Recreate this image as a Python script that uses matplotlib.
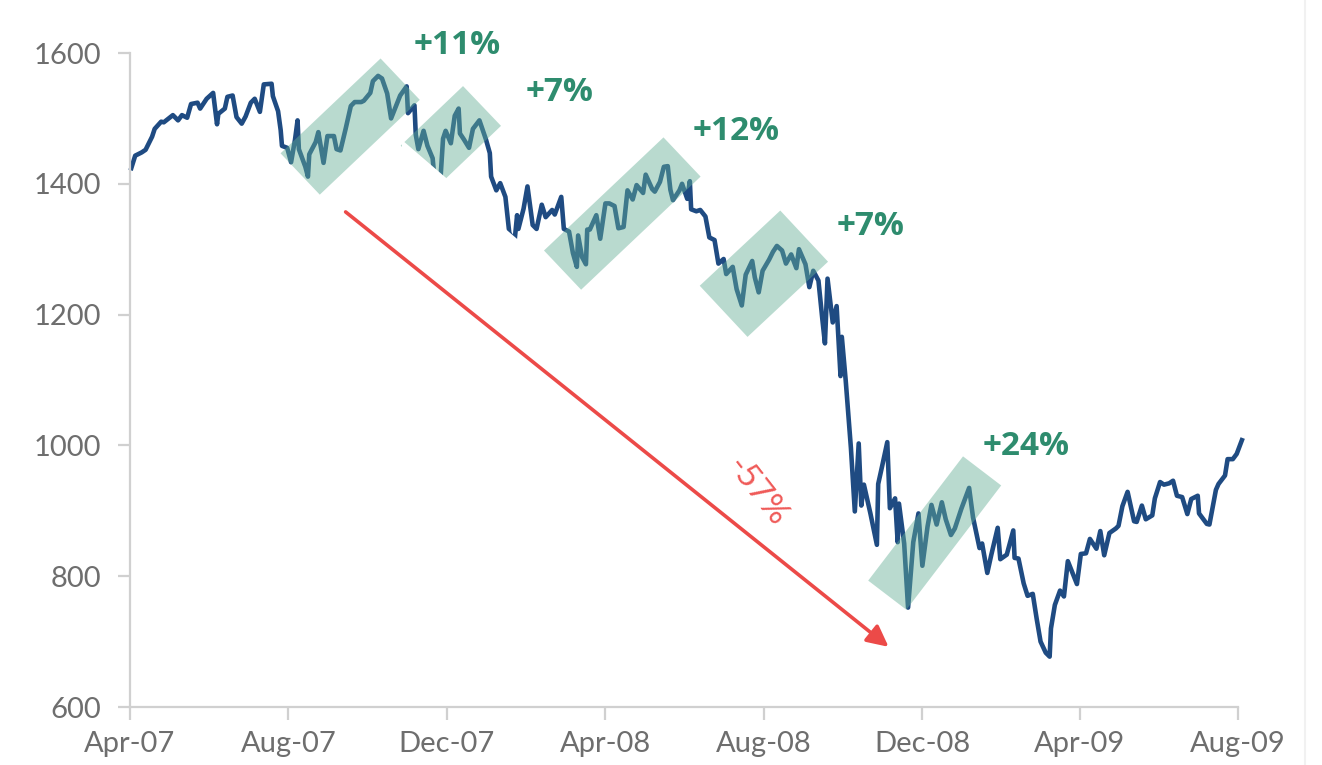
import matplotlib
matplotlib.use("Agg")
import matplotlib.pyplot as plt
import matplotlib.dates as mdates
from matplotlib.patches import Polygon
from matplotlib.lines import Line2D
import numpy as np
import pandas as pd

# S&P 500 closes, Apr-07 .. Aug-09
dates = [
    "2007-04-02", "2007-04-05", "2007-04-10", "2007-04-13", "2007-04-18", "2007-04-20",
    "2007-04-25", "2007-04-27", "2007-05-02", "2007-05-04", "2007-05-08", "2007-05-11",
    "2007-05-15", "2007-05-18", "2007-05-23", "2007-05-25", "2007-05-30", "2007-06-04",
    "2007-06-07", "2007-06-08", "2007-06-13", "2007-06-15", "2007-06-19", "2007-06-22",
    "2007-06-26", "2007-06-29", "2007-07-03", "2007-07-06", "2007-07-10", "2007-07-13",
    "2007-07-19", "2007-07-20", "2007-07-24", "2007-07-26", "2007-07-27", "2007-07-31",
    "2007-08-03", "2007-08-06", "2007-08-08", "2007-08-09", "2007-08-14", "2007-08-16",
    "2007-08-17", "2007-08-22", "2007-08-24", "2007-08-28", "2007-08-31", "2007-09-05",
    "2007-09-07", "2007-09-10", "2007-09-14", "2007-09-18", "2007-09-21", "2007-09-26",
    "2007-09-28", "2007-10-03", "2007-10-05", "2007-10-09", "2007-10-12", "2007-10-16",
    "2007-10-19", "2007-10-23", "2007-10-26", "2007-10-31", "2007-11-01", "2007-11-06",
    "2007-11-07", "2007-11-09", "2007-11-13", "2007-11-16", "2007-11-20", "2007-11-21",
    "2007-11-26", "2007-11-28", "2007-11-30", "2007-12-04", "2007-12-07", "2007-12-10",
    "2007-12-11", "2007-12-14", "2007-12-18", "2007-12-21", "2007-12-26", "2007-12-31",
    "2008-01-03", "2008-01-04", "2008-01-08", "2008-01-11", "2008-01-15", "2008-01-18",
    "2008-01-22", "2008-01-24", "2008-01-25", "2008-01-29", "2008-02-01", "2008-02-05",
    "2008-02-08", "2008-02-12", "2008-02-15", "2008-02-20", "2008-02-22", "2008-02-27",
    "2008-02-29", "2008-03-04", "2008-03-07", "2008-03-10", "2008-03-11", "2008-03-14",
    "2008-03-17", "2008-03-18", "2008-03-20", "2008-03-25", "2008-03-28", "2008-04-01",
    "2008-04-04", "2008-04-08", "2008-04-11", "2008-04-15", "2008-04-18", "2008-04-22",
    "2008-04-25", "2008-04-30", "2008-05-02", "2008-05-07", "2008-05-09", "2008-05-13",
    "2008-05-16", "2008-05-19", "2008-05-21", "2008-05-23", "2008-05-28", "2008-05-30",
    "2008-06-03", "2008-06-05", "2008-06-06", "2008-06-10", "2008-06-13", "2008-06-17",
    "2008-06-20", "2008-06-24", "2008-06-27", "2008-07-01", "2008-07-03", "2008-07-08",
    "2008-07-11", "2008-07-15", "2008-07-18", "2008-07-23", "2008-07-25", "2008-07-28",
    "2008-07-31", "2008-08-05", "2008-08-08", "2008-08-11", "2008-08-15", "2008-08-18",
    "2008-08-22", "2008-08-26", "2008-08-28", "2008-09-02", "2008-09-05", "2008-09-08",
    "2008-09-12", "2008-09-15", "2008-09-17", "2008-09-19", "2008-09-23", "2008-09-26",
    "2008-09-29", "2008-09-30", "2008-10-03", "2008-10-07", "2008-10-10", "2008-10-13",
    "2008-10-15", "2008-10-17", "2008-10-22", "2008-10-24", "2008-10-27", "2008-10-28",
    "2008-10-31", "2008-11-04", "2008-11-06", "2008-11-10", "2008-11-12", "2008-11-13",
    "2008-11-17", "2008-11-20", "2008-11-24", "2008-11-28", "2008-12-01", "2008-12-05",
    "2008-12-08", "2008-12-12", "2008-12-16", "2008-12-19", "2008-12-23", "2008-12-26",
    "2008-12-31", "2009-01-06", "2009-01-09", "2009-01-14", "2009-01-16", "2009-01-20",
    "2009-01-23", "2009-01-28", "2009-01-30", "2009-02-04", "2009-02-09", "2009-02-10",
    "2009-02-13", "2009-02-17", "2009-02-20", "2009-02-24", "2009-02-27", "2009-03-02",
    "2009-03-06", "2009-03-09", "2009-03-10", "2009-03-13", "2009-03-17", "2009-03-20",
    "2009-03-23", "2009-03-30", "2009-04-02", "2009-04-06", "2009-04-09", "2009-04-14",
    "2009-04-17", "2009-04-20", "2009-04-24", "2009-04-29", "2009-05-01", "2009-05-04",
    "2009-05-08", "2009-05-13", "2009-05-15", "2009-05-19", "2009-05-22", "2009-05-27",
    "2009-05-29", "2009-06-02", "2009-06-05", "2009-06-09", "2009-06-12", "2009-06-15",
    "2009-06-19", "2009-06-23", "2009-06-26", "2009-07-01", "2009-07-02", "2009-07-08",
    "2009-07-10", "2009-07-15", "2009-07-17", "2009-07-22", "2009-07-24", "2009-07-28",
    "2009-07-31", "2009-08-04",
]
values = [
    1424, 1443, 1448, 1452, 1472, 1484,
    1495, 1494, 1502, 1505, 1497, 1505,
    1501, 1522, 1524, 1515, 1530, 1539,
    1491, 1507, 1515, 1533, 1535, 1502,
    1492, 1503, 1524, 1530, 1510, 1552,
    1553, 1534, 1511, 1482, 1458, 1455,
    1433, 1467, 1497, 1453, 1426, 1411,
    1445, 1464, 1479, 1432, 1473, 1473,
    1453, 1451, 1484, 1519, 1525, 1525,
    1527, 1539, 1557, 1565, 1561, 1538,
    1500, 1520, 1535, 1549, 1508, 1520,
    1475, 1453, 1481, 1458, 1439, 1417,
    1407, 1469, 1481, 1462, 1504, 1515,
    1477, 1468, 1455, 1484, 1497, 1468,
    1447, 1411, 1390, 1401, 1380, 1325,
    1311, 1352, 1331, 1362, 1396, 1337,
    1331, 1368, 1349, 1360, 1353, 1380,
    1331, 1327, 1294, 1273, 1321, 1288,
    1277, 1330, 1330, 1352, 1316, 1370,
    1370, 1366, 1332, 1334, 1390, 1376,
    1398, 1386, 1414, 1392, 1388, 1403,
    1426, 1427, 1391, 1375, 1390, 1400,
    1377, 1404, 1361, 1358, 1360, 1350,
    1318, 1314, 1278, 1285, 1262, 1273,
    1239, 1214, 1261, 1282, 1257, 1234,
    1267, 1284, 1296, 1305, 1298, 1278,
    1292, 1271, 1300, 1277, 1242, 1267,
    1252, 1193, 1156, 1255, 1188, 1213,
    1106, 1166, 1099, 996, 899, 1003,
    908, 940, 896, 877, 848, 941,
    968, 1005, 904, 919, 852, 911,
    850, 752, 852, 896, 816, 876,
    909, 879, 913, 887, 863, 873,
    903, 935, 890, 843, 850, 805,
    832, 874, 826, 833, 870, 828,
    827, 789, 770, 773, 735, 700,
    683, 677, 720, 756, 778, 769,
    823, 788, 834, 835, 857, 842,
    869, 832, 866, 873, 877, 907,
    929, 884, 883, 908, 887, 893,
    919, 944, 940, 942, 946, 923,
    921, 895, 918, 923, 896, 880,
    879, 932, 941, 954, 979, 979,
    987, 1008,
]

# rally bands: centre-line start/end (date, level), width in px, label and its spot
band_start = [("2007-08-10", 1415), ("2007-11-10", 1428), ("2008-02-28", 1268),
              ("2008-07-01", 1205), ("2008-11-04", 771)]
band_end = [("2007-10-26", 1560), ("2007-12-28", 1519), ("2008-05-30", 1441),
            ("2008-09-01", 1320), ("2009-01-16", 961)]
band_width = [57, 55, 54, 70, 48]
band_labels = ["+11%", "+7%", "+12%", "+7%", "+24%"]
label_pos = [("2007-12-09", 1612), ("2008-02-26", 1540), ("2008-07-11", 1480),
             ("2008-10-22", 1334), ("2009-02-19", 998)]

arrow_from = ("2007-09-14", 1357)
arrow_to = ("2008-11-05", 692)
drop_label = "-57%"
drop_pos = ("2008-07-27", 928)

tick_dates = ["2007-04-01", "2007-08-01", "2007-12-01", "2008-04-01",
              "2008-08-01", "2008-12-01", "2009-04-01", "2009-08-01"]
y_ticks = [600, 800, 1000, 1200, 1400, 1600]

LINE = "#1f4b82"
BAND = "#64af96"
GREEN = "#2e8c6e"
RED = "#ec4a48"
GREY = "#6e6e6e"
AXIS = "#d0d0d0"

plt.rcParams["font.family"] = ["Lato", "DejaVu Sans"]


def dnum(d):
    return mdates.date2num(pd.Timestamp(d))


fig = plt.figure(figsize=(13.22, 7.65), dpi=100)
ax = fig.add_axes([130 / 1322, 1 - 707 / 765, (1238 - 130) / 1322, (707 - 53) / 765])

x = [dnum(d) for d in dates]
ax.plot(x, values, color=LINE, linewidth=3.3, solid_joinstyle="round", clip_on=False, zorder=2)

ax.set_xlim(dnum(tick_dates[0]), dnum(tick_dates[-1]))
ax.set_ylim(600, 1600)
ax.set_xticks([dnum(d) for d in tick_dates])
ax.xaxis.set_major_formatter(mdates.DateFormatter("%b-%y"))
ax.set_yticks(y_ticks)

for s in ["top", "right"]:
    ax.spines[s].set_visible(False)
for s in ["left", "bottom"]:
    ax.spines[s].set_color(AXIS)
    ax.spines[s].set_linewidth(1.6)
ax.tick_params(axis="both", colors=AXIS, width=1.6, length=9, labelsize=21, labelcolor=GREY)
ax.tick_params(axis="y", pad=12)
ax.tick_params(axis="x", pad=8)

# rotated rally boxes, built in pixel space so they stay rectangular
to_px = ax.transData.transform
to_data = ax.transData.inverted().transform
for (d0, v0), (d1, v1), w in zip(band_start, band_end, band_width):
    p0 = to_px((dnum(d0), v0))
    p1 = to_px((dnum(d1), v1))
    u = (p1 - p0) / np.hypot(*(p1 - p0))
    n = np.array([-u[1], u[0]]) * w / 2
    corners = to_data(np.array([p0 + n, p1 + n, p1 - n, p0 - n]))
    ax.add_patch(Polygon(corners, closed=True, facecolor=BAND, edgecolor="none",
                         alpha=0.45, zorder=3, clip_on=False))

for txt, (d, v) in zip(band_labels, label_pos):
    ax.text(dnum(d), v, txt, color=GREEN, fontsize=24, fontweight="bold",
            family=["Open Sans", "DejaVu Sans"], ha="center", va="center", zorder=5)

# white backing strip above the arrow (cuts the line like in the source)
mask = to_data(np.array([[402, 765 - 140], [530, 765 - 250], [530, 765 - 400], [402, 765 - 290]],
                        dtype=float))
ax.add_patch(Polygon(mask, closed=True, facecolor="white", edgecolor="none", zorder=4))

ax.annotate("", xy=(dnum(arrow_to[0]), arrow_to[1]),
            xytext=(dnum(arrow_from[0]), arrow_from[1]),
            arrowprops=dict(arrowstyle="-|>", color=RED, lw=2.6, mutation_scale=32,
                            shrinkA=0, shrinkB=0), zorder=6)
ax.text(dnum(drop_pos[0]), drop_pos[1], drop_label, color="#ef5a58", fontsize=24,
        rotation=-52, ha="center", va="center", zorder=6)

fig.add_artist(Line2D([1305 / 1322] * 2, [0, 1], color="#f1f1f1", lw=1.5))

fig.savefig("out.png", dpi=100)
